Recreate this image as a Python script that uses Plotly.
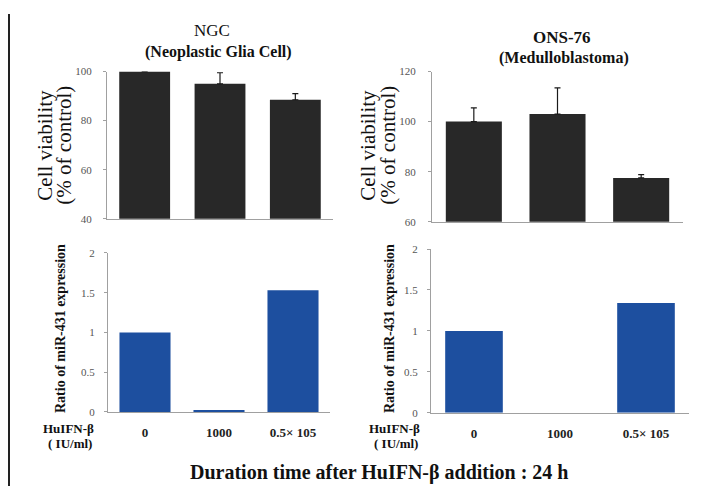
import plotly.graph_objects as go

# page body has an 8px margin: figure occupies 8..726 x 8..492 of the window
OFF = 8
W, H = 726 - OFF, 492 - OFF

doses = ["0", "1000", "0.5× 105"]

ngc_viability = [100, 95, 88.5]
ngc_viability_err = [0, 4.5, 2.5]
ons_viability = [100, 103, 77.5]
ons_viability_err = [5.5, 10.5, 1.3]

ngc_mir431 = [1.0, 0.02, 1.53]
ons_mir431 = [1.0, 0.0, 1.34]

ngc_title = "NGC"
ngc_sub = "(Neoplastic Glia Cell)"
ons_title = "ONS-76"
ons_sub = "(Medulloblastoma)"

SERIF = "'Liberation Serif', 'Times New Roman', 'DejaVu Serif', serif"
DARK = "#282828"
BLUE = "#1d4f9f"


def px_x(x):
    return (x - OFF) / W


def px_y(y):
    return 1 - (y - OFF) / H


fig = go.Figure()

panels = [
    ("tl", ngc_viability, ngc_viability_err, DARK, 107, 333, 67, 218, [40, 100], 20, 0.675, 9),
    ("tr", ons_viability, ons_viability_err, DARK, 432, 683, 67, 221, [60, 120], 20, 0.67, 10),
    ("bl", ngc_mir431, None, BLUE, 108, 330, 253, 416, [0, 2], 0.5, 0.69, 7),
    ("br", ons_mir431, None, BLUE, 431, 689, 249, 417, [0, 2], 0.5, 0.67, 7),
]

layout_axes = {}
for i, (name, vals, errs, col, x0, x1, yt, yb, yr, dt, bw, stand) in enumerate(panels):
    suffix = "" if i == 0 else str(i + 1)
    tr = go.Bar(
        x=doses, y=vals, xaxis="x" + suffix, yaxis="y" + suffix, width=bw,
        marker=dict(color=col, line=dict(width=0)),
        showlegend=False,
    )
    if errs is not None:
        tr.error_y = dict(type="data", array=errs, arrayminus=[0] * len(errs),
                          symmetric=False, color="#1a1a1a", thickness=1.2, width=3)
    fig.add_trace(tr)
    bottom = name.startswith("b")
    layout_axes["xaxis" + suffix] = dict(
        domain=[px_x(x0), px_x(x1)], anchor="y" + suffix,
        range=[-0.5, 2.5], showgrid=False, zeroline=False,
        showline=True, linecolor="#a0a0a0", linewidth=1,
        ticks="", showticklabels=bottom,
        tickfont=dict(family=SERIF, size=13, color="#222", weight="bold"),
        ticklabelstandoff=9,
    )
    layout_axes["yaxis" + suffix] = dict(
        domain=[px_y(yb), px_y(yt)], anchor="x" + suffix,
        range=yr, dtick=dt, showgrid=False, zeroline=False,
        showline=True, linecolor="#a0a0a0", linewidth=1,
        ticks="outside", ticklen=3, tickcolor="#a0a0a0",
        tickfont=dict(family=SERIF, size=11, color="#555"),
        ticklabelstandoff=stand,
    )

annotations = []


def txt(x, y, text, size, bold=False, angle=0, color="#111"):
    t = f"<b>{text}</b>" if bold else text
    annotations.append(dict(
        x=px_x(x), y=px_y(y), xref="paper", yref="paper", text=t,
        showarrow=False, textangle=angle, xanchor="center", yanchor="middle",
        font=dict(family=SERIF, size=size, color=color),
    ))


txt(212, 25, ngc_title, 17)
txt(218, 47, ngc_sub, 16, bold=True)
txt(562, 32, ons_title, 17, bold=True)
txt(564, 53, ons_sub, 16, bold=True)

txt(45, 143, "Cell viability", 21, angle=-90)
txt(64, 143, "(% of control)", 21, angle=-90)
txt(368, 143, "Cell viability", 21, angle=-90)
txt(388, 143, "(% of control)", 21, angle=-90)

txt(61, 331, "Ratio of miR-431 expression", 14, bold=True, angle=-90)
txt(390, 331, "Ratio of miR-431 expression", 14, bold=True, angle=-90)

txt(69, 433, "HuIFN-β", 13, bold=True)
txt(70, 448, "( IU/ml)", 13, bold=True)
txt(394, 433, "HuIFN-β", 13, bold=True)
txt(396, 448, "( IU/ml)", 13, bold=True)

txt(379, 478, "Duration time after HuIFN-β addition : 24 h", 20, bold=True)

fig.update_layout(
    width=W, height=H,
    margin=dict(l=0, r=0, t=0, b=0),
    paper_bgcolor="white", plot_bgcolor="rgba(0,0,0,0)",
    annotations=annotations,
    shapes=[dict(type="line", xref="paper", yref="paper",
                 x0=px_x(9), x1=px_x(9), y0=0, y1=1,
                 line=dict(color="#222", width=2))],
    **layout_axes,
)

fig.write_html("out.html")
